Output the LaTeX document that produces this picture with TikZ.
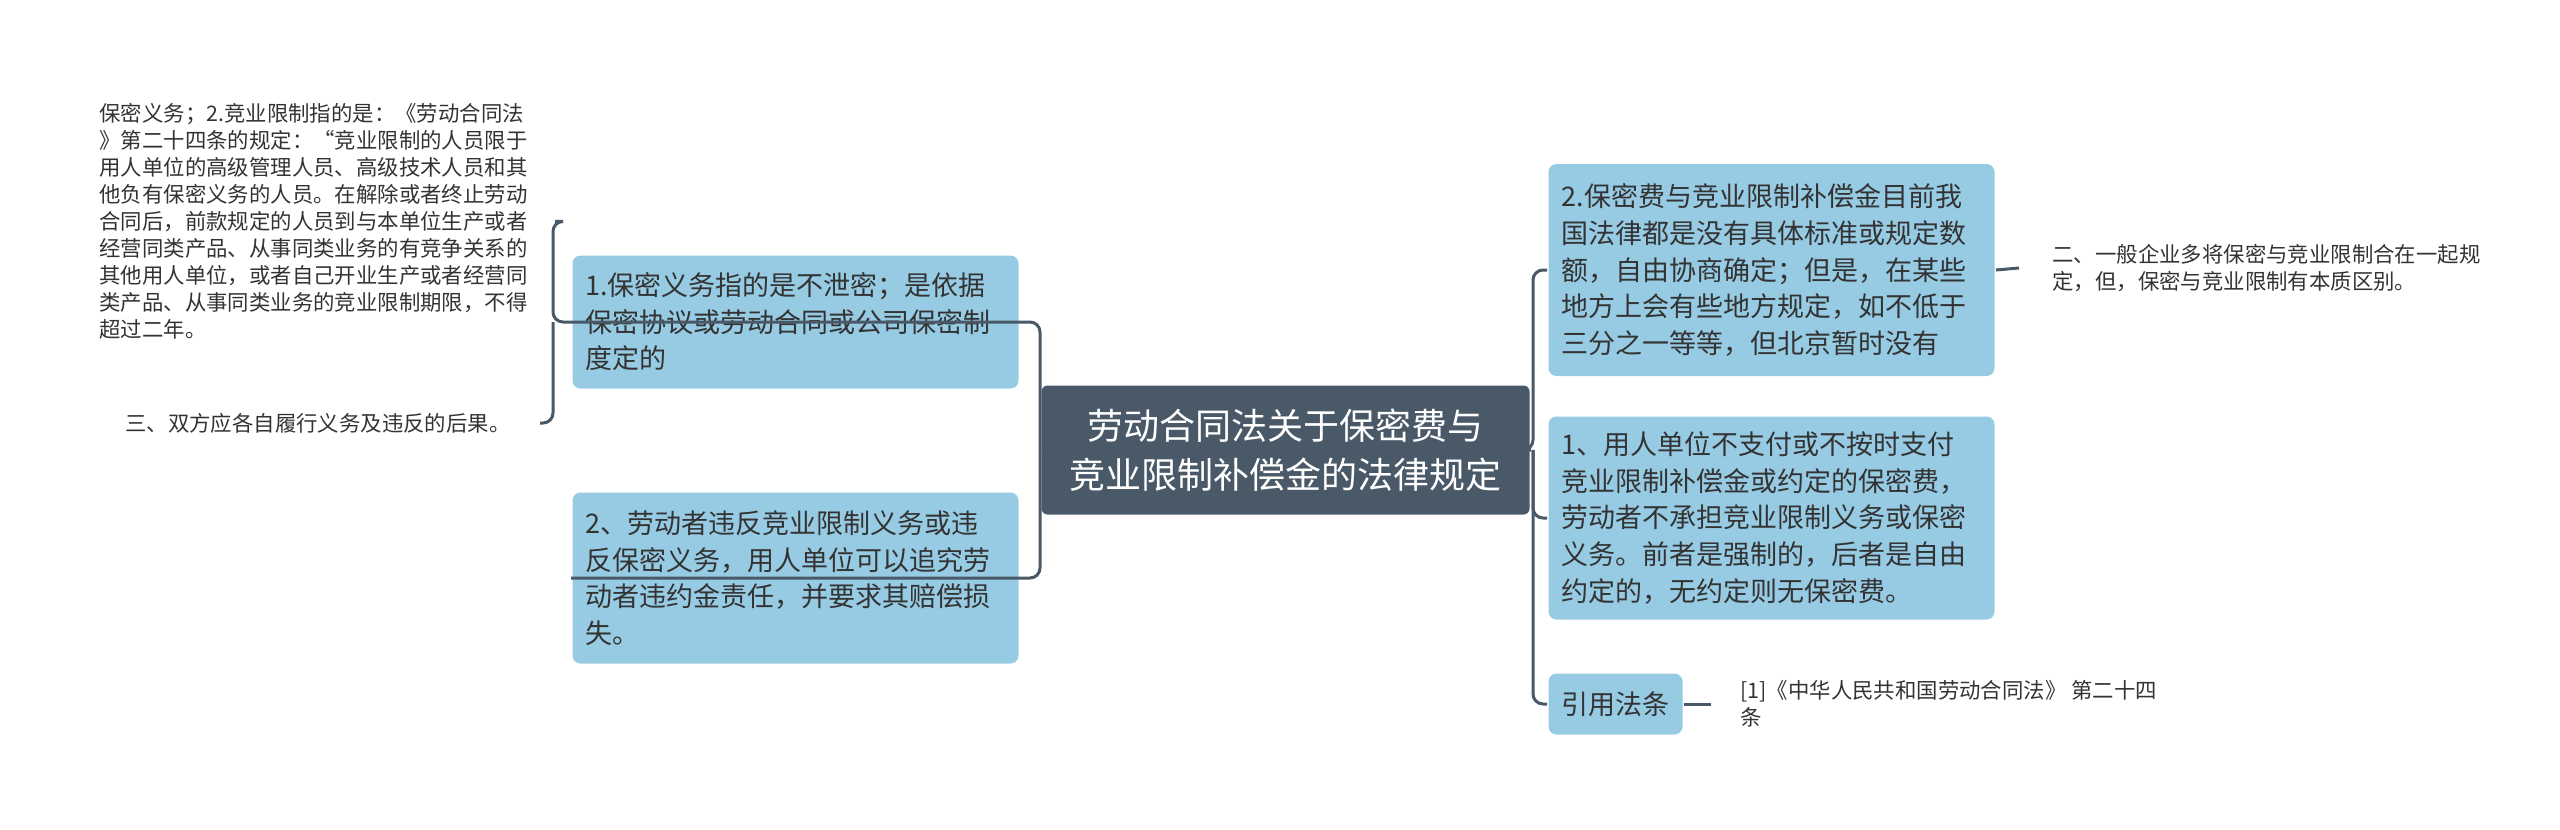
\documentclass[tikz,border=0pt]{standalone}
\usepackage{fontspec}
\setmainfont{Noto Sans CJK SC}
\definecolor{boxblue}{RGB}{150,203,227}
\definecolor{rootgrey}{RGB}{74,89,103}
\definecolor{txtgrey}{RGB}{51,51,51}
\tikzset{every picture/.style={line width=1.5pt}}

\begin{document}
\begin{tikzpicture}[x=0.5pt,y=-0.5pt,
  rootbox/.style={fill=rootgrey,text=white,rounded corners=3pt,align=center,
    font=\fontsize{18pt}{24.5pt}\selectfont,inner xsep=14pt,minimum height=64.5pt},
  leafbox/.style={fill=boxblue,text=txtgrey,rounded corners=4pt,align=left,
    font=\fontsize{13.5pt}{18.3pt}\selectfont,inner xsep=6.5pt,anchor=west},
  widebox/.style={leafbox,text width=210pt},
  note/.style={text=txtgrey,align=left,inner sep=0pt,
    font=\fontsize{10.7pt}{13.5pt}\selectfont},
  link/.style={draw=rootgrey,rounded corners=5pt}]
\useasboundingbox (0,0) rectangle (2560,830);

% centre
\node [rootbox] (root) at (1285.5,450) {劳动合同法关于保密费与\\竞业限制补偿金的法律规定};

% left branch
\node [widebox,minimum height=66.5pt] (confid) at (571,322) {1.保密义务指的是不泄密；是依据\\保密协议或劳动合同或公司保密制\\度定的};
\node [widebox,minimum height=85.5pt] (breach) at (571,578) {2、劳动者违反竞业限制义务或违\\反保密义务，用人单位可以追究劳\\动者违约金责任，并要求其赔偿损\\失。};
\node [note,anchor=north west,text width=215pt] (lawtext) at (98,102) {保密义务；2.竞业限制指的是：《劳动合同法\\》第二十四条的规定：“竞业限制的人员限于\\用人单位的高级管理人员、高级技术人员和其\\他负有保密义务的人员。在解除或者终止劳动\\合同后，前款规定的人员到与本单位生产或者\\经营同类产品、从事同类业务的有竞争关系的\\其他用人单位，或者自己开业生产或者经营同\\类产品、从事同类业务的竞业限制期限，不得\\超过二年。};
\node [note,anchor=east] (duty) at (512,423) {三、双方应各自履行义务及违反的后果。};

% right branch
\node [widebox,minimum height=106pt] (nostd) at (1547,270) {2.保密费与竞业限制补偿金目前我\\国法律都是没有具体标准或规定数\\额，自由协商确定；但是，在某些\\地方上会有些地方规定，如不低于\\三分之一等等，但北京暂时没有};
\node [widebox,minimum height=101.5pt] (unpaid) at (1547,518) {1、用人单位不支付或不按时支付\\竞业限制补偿金或约定的保密费，\\劳动者不承担竞业限制义务或保密\\义务。前者是强制的，后者是自由\\约定的，无约定则无保密费。};
\node [leafbox,minimum height=30.5pt] (cite) at (1547,704) {引用法条};
\node [note,anchor=west] (merge) at (2051,268) {二、一般企业多将保密与竞业限制合在一起规\\定，但，保密与竞业限制有本质区别。};
\node [note,anchor=west] (article) at (1739,704) {[1]《中华人民共和国劳动合同法》 第二十四\\条};

% junctions
\coordinate (lj) at (1040,450);
\coordinate (rj) at (1533,450);
\coordinate (cj) at (553,322);

% connectors
\draw [link] (root.west) -- (lj) |- (confid.west);
\draw [link] (lj) |- (breach.west);
\draw [link] (root.east) -- (rj) |- (nostd.west);
\draw [link] (rj) |- (unpaid.west);
\draw [link] (rj) |- (cite.west);
\draw [link] (confid.west) -- (cj) |- ([xshift=12]lawtext.east);
\draw [link] (cj) |- ([xshift=14]duty.east);
\draw [link] (nostd.east) -- ([xshift=-16]merge.west);
\draw [link] (cite.east) -- ([xshift=-14]article.west);

\end{tikzpicture}
\end{document}
